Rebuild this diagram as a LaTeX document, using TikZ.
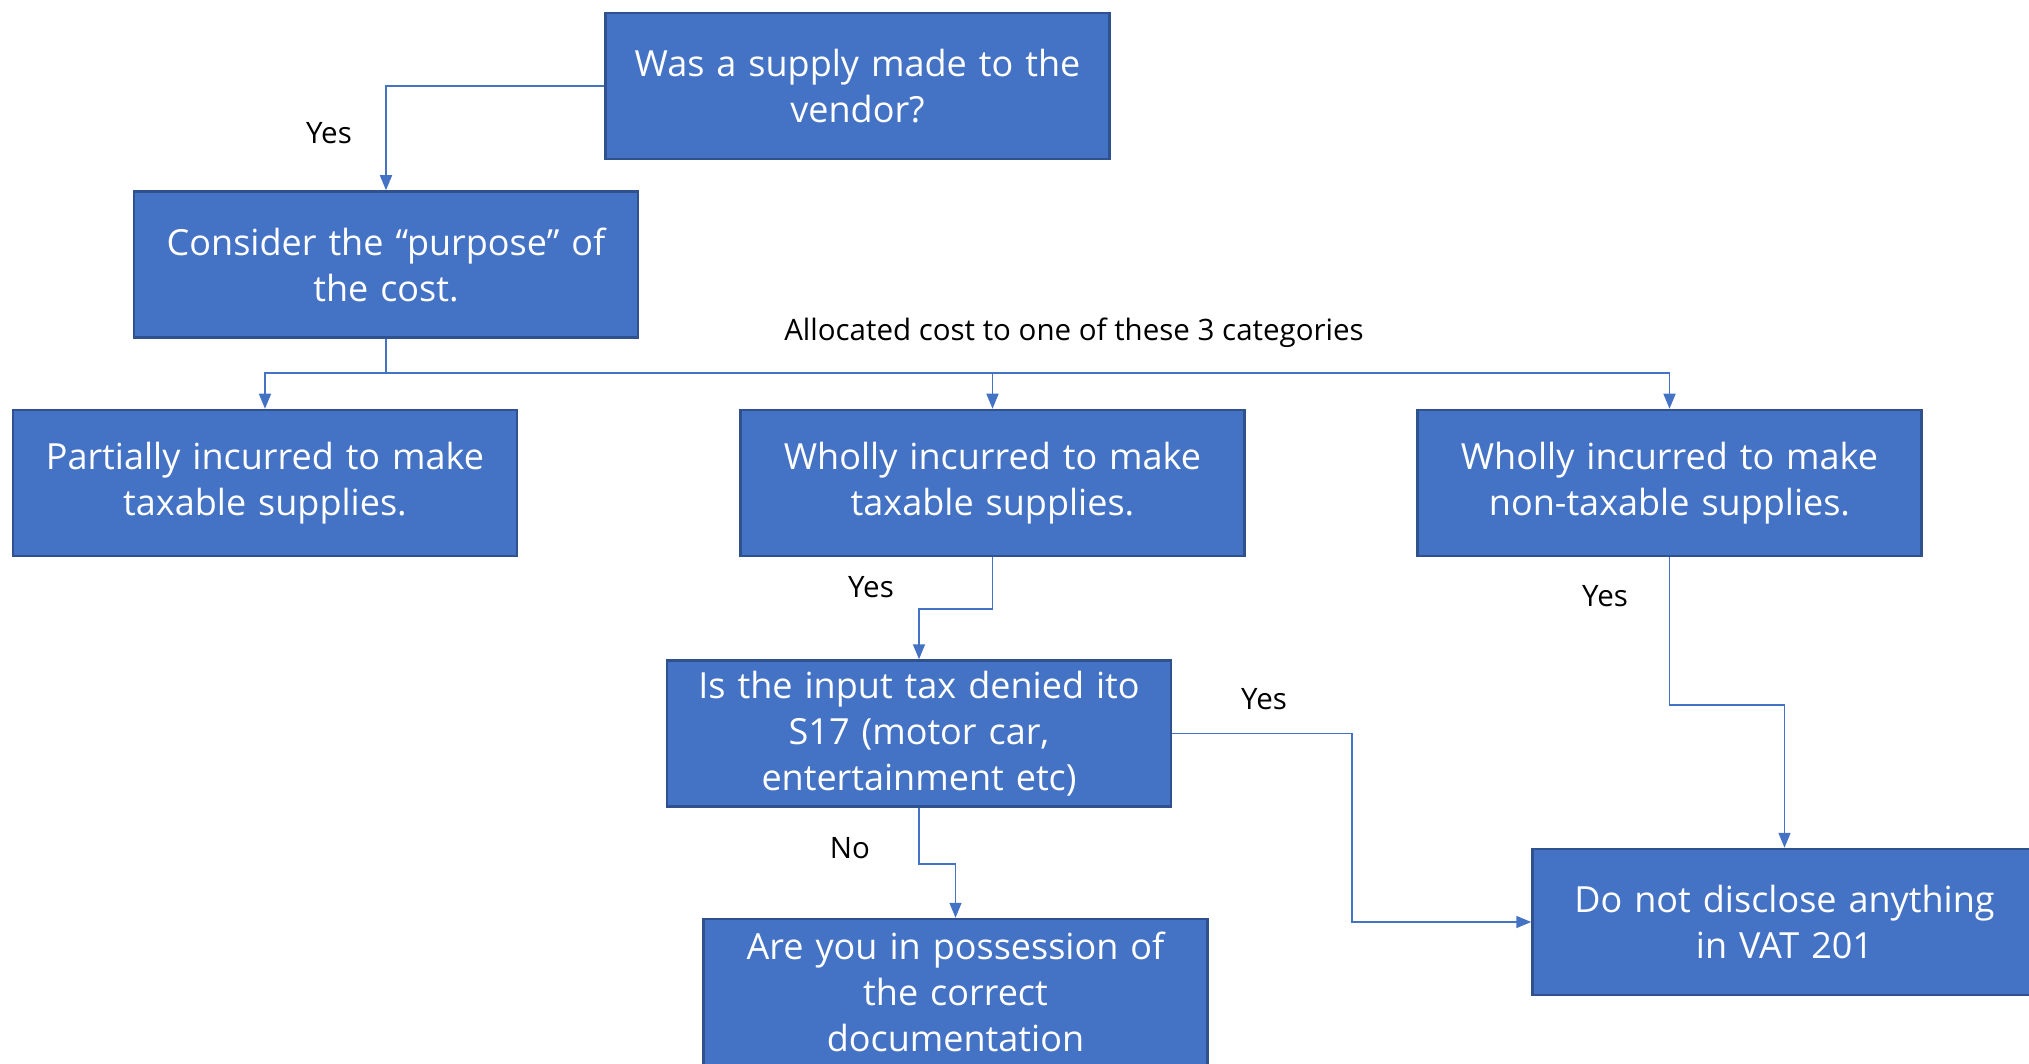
\documentclass[tikz,border=0pt]{standalone}
\usepackage{fontspec}
\setmainfont{Open Sans}
\usetikzlibrary{arrows.meta}
\definecolor{boxfill}{HTML}{4472C4}
\definecolor{boxedge}{HTML}{2F528F}
\definecolor{linkcol}{HTML}{4472C4}
\begin{document}
\begin{tikzpicture}[x=1pt,y=-1pt,
  box/.style={draw=boxedge, line width=2.5pt, fill=boxfill, text=white,
    minimum width=504pt, minimum height=146pt, inner sep=0pt,
    align=center, text width=490pt, font=\fontsize{36}{46}\selectfont},
  lbl/.style={text=black, inner sep=0pt, font=\fontsize{29.5}{34}\selectfont},
  conn/.style={draw=linkcol, line width=1.6pt},
  arr/.style={conn, -{Triangle[length=15pt,width=12pt]}}]
\useasboundingbox (0,0) rectangle (2029,1064);

% process boxes
\node[box] (supply) at (857.5,86) {Was a supply made to the\\vendor?};
\node[box] (purpose) at (386,264.5) {Consider the “purpose” of\\the cost.};
\node[box] (partial) at (265,483) {Partially incurred to make\\taxable supplies.};
\node[box] (wtax) at (992.5,483) {Wholly incurred to make\\taxable supplies.};
\node[box] (wnontax) at (1669.5,483) {Wholly incurred to make\\non-taxable supplies.};
\node[box] (denied) at (919,733.5) {Is the input tax denied ito\\S17 (motor car,\\entertainment etc)};
\node[box] (docs) at (955.5,992) {Are you in possession of\\the correct\\documentation};
\node[box] (nodisc) at (1784.5,922) {Do not disclose anything\\in VAT 201};

% connectors
\draw[arr] (supply.west) -| (purpose.north);
\coordinate (bus) at (386,373);
\draw[conn] (purpose.south) -- (bus);
\draw[arr] (bus) -| (partial.north);
\draw[arr] (bus) -| (wtax.north);
\draw[arr] (bus) -| (wnontax.north);
\draw[arr] (wtax.south) -- ++(0,52) -| (denied.north);
\draw[arr] (denied.south) -- ++(0,56) -| (docs.north);
\draw[arr] (wnontax.south) -- ++(0,148) -| (nodisc.north);
\draw[arr] (denied.east) -- ++(180,0) |- (nodisc.west);

% connector labels
\node[lbl] (yesA) at (329,133) {Yes};
\node[lbl] (alloc) at (1074,333) {Allocated cost to one of these 3 categories};
\node[lbl] (yesD) at (871,587) {Yes};
\node[lbl] (yesE) at (1605,596) {Yes};
\node[lbl] (yesF) at (1264,699) {Yes};
\node[lbl] (noF) at (850,848) {No};
\end{tikzpicture}
\end{document}
